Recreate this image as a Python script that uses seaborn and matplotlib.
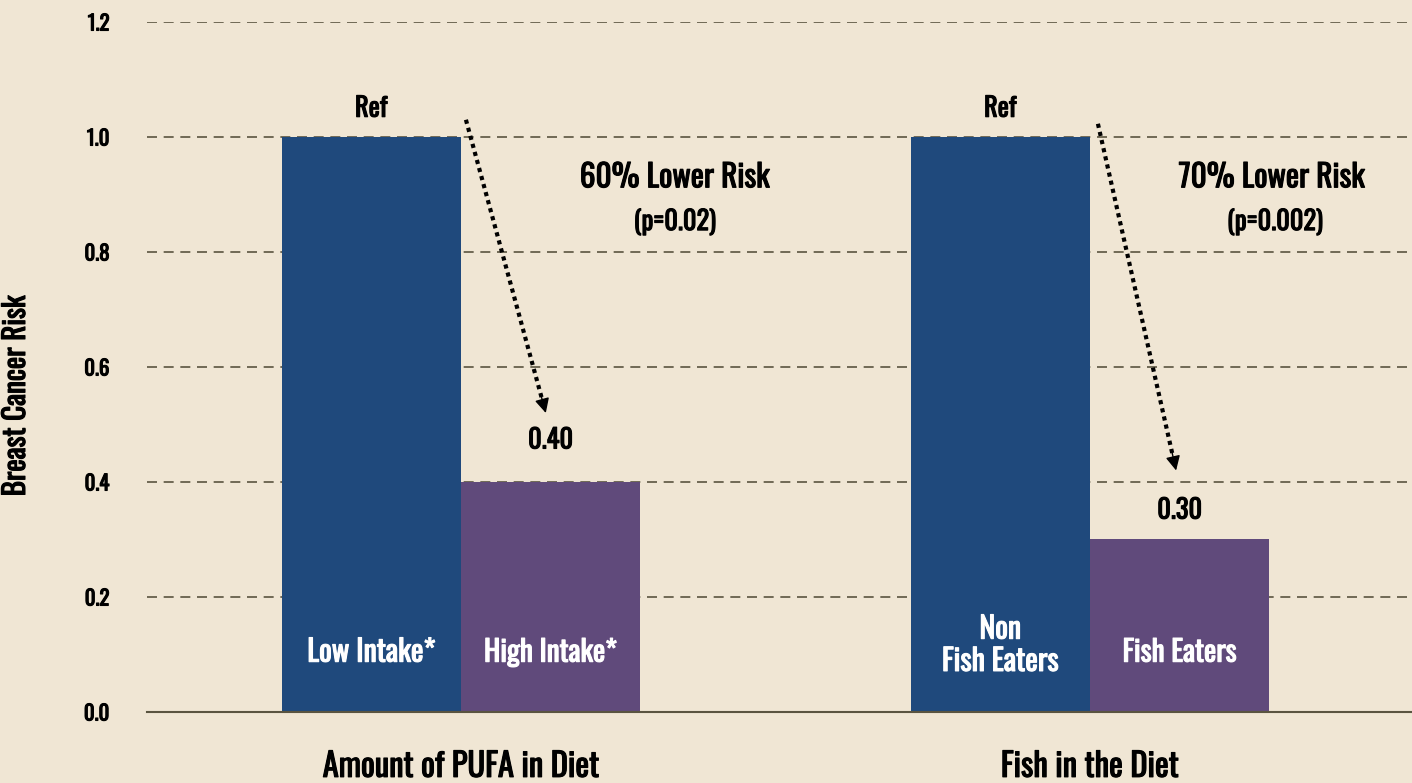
import matplotlib
matplotlib.use("Agg")
import matplotlib.pyplot as plt
import matplotlib.patheffects as pe
from matplotlib import font_manager
import seaborn as sns
import pandas as pd

# ---- data ----
groups = ["Amount of PUFA in Diet", "Fish in the Diet"]
levels = ["Reference", "Comparison"]
ref_values = [1.0, 1.0]
comp_values = [0.40, 0.30]
bar_labels_ref = ["Low Intake*", "Non\nFish Eaters"]
bar_labels_comp = ["High Intake*", "Fish Eaters"]
value_labels = ["0.40", "0.30"]
risk_texts = ["60% Lower Risk", "70% Lower Risk"]
p_texts = ["(p=0.02)", "(p=0.002)"]
yticks = [0.0, 0.2, 0.4, 0.6, 0.8, 1.0, 1.2]

BG = "#F0E6D4"
BLUE = "#1F497C"
PURPLE = "#604A7B"
GRID = "#5A5440"

sns.set_theme(style="white")

entries = font_manager.fontManager.ttflist
def pick():
    for name in ["Oswald", "Fjalla One", "Antonio", "Barlow Condensed"]:
        if any(f.name == name for f in entries):
            return name
    return "DejaVu Sans"
FAM = pick()
plt.rcParams["font.family"] = [FAM, "DejaVu Sans"]
plt.rcParams["font.weight"] = "bold"

df = pd.DataFrame({
    "group": groups * 2,
    "level": [levels[0]] * 2 + [levels[1]] * 2,
    "value": ref_values + comp_values,
})

fig = plt.figure(figsize=(14.12, 7.83), dpi=100, facecolor=BG)
ax = fig.add_axes([0.1041, 0.0907, 0.8959, 0.8812])
ax.set_facecolor(BG)

sns.barplot(data=df, x="group", y="value", hue="level", hue_order=levels,
            palette=[BLUE, PURPLE], width=0.57, dodge=True, ax=ax,
            linewidth=0, saturation=1, legend=False, errorbar=None)

ax.set_xlim(-0.499, 1.512)
ax.set_ylim(0, 1.2)
ax.set_yticks(yticks)
ax.set_yticklabels([f"{t:.1f}" for t in yticks], fontsize=15, color="black")
ax.tick_params(axis="y", length=0, pad=27)
ax.tick_params(axis="x", length=0, pad=28, labelsize=23.5, labelcolor="black")
ax.set_xlabel("")
ax.set_ylabel("Breast Cancer Risk", fontsize=21, color="black")
ax.yaxis.set_label_coords(-0.0925, 0.458)

ax.set_axisbelow(True)
for t in yticks[1:]:
    ax.axhline(t, color=GRID, lw=1.2, ls=(0, (6, 4)), zorder=0)
for s in ["top", "right", "left"]:
    ax.spines[s].set_visible(False)
ax.spines["bottom"].set_color(GRID)
ax.spines["bottom"].set_linewidth(1.5)

bw = 0.285
value_offsets = [0.073, 0.051]
for i in range(2):
    xr = i - bw / 2
    xc = i + bw / 2
    ax.text(xr, 0.104 if i == 0 else 0.116, bar_labels_ref[i], ha="center", va="center",
            color="white", fontsize=21.5, linespacing=1.05)
    ax.text(xc, 0.104, bar_labels_comp[i], ha="center", va="center",
            color="white", fontsize=21)
    ax.text(xr, ref_values[i] + 0.05, "Ref", ha="center", va="center",
            fontsize=19, color="black")
    ax.text(xc, comp_values[i] + value_offsets[i], value_labels[i], ha="center", va="center",
            fontsize=19, color="black")
    ax.text(i + (0.340 if i == 0 else 0.289), 0.929, risk_texts[i], ha="center", va="center",
            fontsize=22.5, color="black")
    ax.text(i + (0.340 if i == 0 else 0.294), 0.852, p_texts[i], ha="center", va="center",
            fontsize=19, color="black")

# dotted arrows
arrows = [((0.008, 1.030), (0.135, 0.52)), ((1.0127, 1.023), (1.137, 0.42))]
for (x0, y0), (x1, y1) in arrows:
    ax.plot([x0, x1 - (x1 - x0) * 0.03], [y0, y1 - (y1 - y0) * 0.03],
            ls=(0, (1, 1)), lw=3, color="black")
    ax.annotate("", xy=(x1, y1), xytext=(x1 - (x1 - x0) * 0.06, y1 - (y1 - y0) * 0.06),
                arrowprops=dict(arrowstyle="-|>", color="black", lw=1,
                                mutation_scale=22, shrinkA=0, shrinkB=0))

# thicken text slightly (bold look)
all_texts = list(ax.texts) + ax.get_xticklabels() + ax.get_yticklabels() + [ax.yaxis.label]
for t in all_texts:
    t.set_path_effects([pe.withStroke(linewidth=0.8, foreground=t.get_color())])

fig.savefig("out.png", dpi=100, facecolor=BG)
